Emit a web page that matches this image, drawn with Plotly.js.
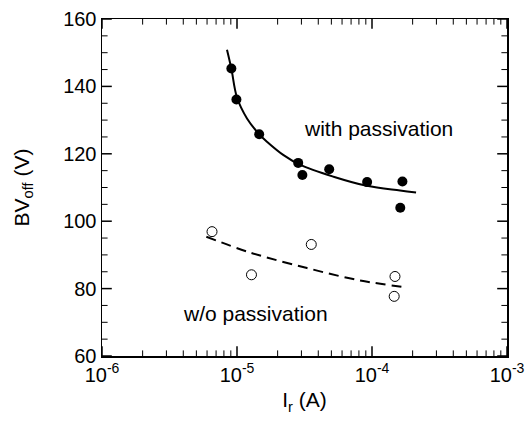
<!DOCTYPE html>
<html>
<head>
<meta charset="utf-8">
<script src="https://cdn.plot.ly/plotly-3.0.1.min.js"></script>
<style>html,body{margin:0;padding:0;background:#fff;}#chart{width:527px;height:422px;}</style>
</head>
<body>
<div id="chart"></div>
<script>
// measured data: with passivation (filled circles)
const withX = [9.08e-6, 9.9e-6, 1.46e-5, 2.84e-5, 3.05e-5, 4.82e-5, 9.2e-5, 1.68e-4, 1.62e-4];
const withY = [145.3, 136.1, 125.8, 117.3, 113.7, 115.4, 111.6, 111.8, 104.0];
// measured data: without passivation (open circles)
const woX = [6.53e-6, 1.28e-5, 3.55e-5, 1.48e-4, 1.46e-4];
const woY = [96.9, 84.1, 93.1, 83.6, 77.7];
// fit curves
const fitWithX = [8.43e-6, 9.08e-6, 1e-5, 1.186e-5, 1.46e-5, 1.667e-5, 2.213e-5, 2.94e-5, 5.19e-5, 9.14e-5, 1.614e-4, 2.12e-4];
const fitWithY = [150.9, 145.3, 136.7, 130.5, 125.8, 123.6, 119.6, 116.7, 113.2, 110.5, 109.1, 108.5];
const fitWoX = [5.93e-6, 1.253e-5, 3.3e-5, 8.17e-5, 1.79e-4];
const fitWoY = [95.4, 90.7, 86.1, 82.4, 80.4];
const labels = ["with passivation", "w/o passivation"];
// axis ticks
const xMajor = [1e-6, 1e-5, 1e-4, 1e-3];
const xTickText = ['10<sup>-6</sup>', '10<sup>-5</sup>', '10<sup>-4</sup>', '10<sup>-3</sup>'];
const decades = [1e-6, 1e-5, 1e-4];
const minorMult = [2, 3, 4, 5, 6, 7, 8, 9];
const yMajor = [60, 80, 100, 120, 140, 160];
const yMinor = [65, 70, 75, 85, 90, 95, 105, 110, 115, 125, 130, 135, 145, 150, 155];

const xMinor = [];
decades.forEach(d => minorMult.forEach(m => xMinor.push(d * m)));

// tick marks drawn as clipped line markers on both edges (bottom/top, left/right)
function xTickTrace(vals, size, width) {
  const xs = [], ys = [];
  vals.forEach(v => { xs.push(v, v); ys.push(0, 1); });
  return {x: xs, y: ys, xaxis: 'x', yaxis: 'y3', mode: 'markers', hoverinfo: 'skip', cliponaxis: true,
          marker: {symbol: 'line-ns', size: size, color: '#000', line: {color: '#000', width: width}}};
}
function yTickTrace(vals, size, width) {
  const xs = [], ys = [];
  vals.forEach(v => { ys.push(v, v); xs.push(0, 1); });
  return {x: xs, y: ys, xaxis: 'x3', yaxis: 'y', mode: 'markers', hoverinfo: 'skip', cliponaxis: true,
          marker: {symbol: 'line-ew', size: size, color: '#000', line: {color: '#000', width: width}}};
}

const font = "Liberation Sans, Arial, Helvetica, sans-serif";

const traces = [
  xTickTrace(xMajor, 14, 1.5),
  xTickTrace(xMinor, 8, 1),
  yTickTrace(yMajor, 14, 1.5),
  yTickTrace(yMinor, 8, 1),
  {x: fitWithX, y: fitWithY, mode: 'lines', line: {color: '#000', width: 2, shape: 'spline'}, hoverinfo: 'skip'},
  {x: fitWoX, y: fitWoY, mode: 'lines', line: {color: '#000', width: 2, dash: '10px,6px', shape: 'spline'}, hoverinfo: 'skip'},
  {x: withX, y: withY, mode: 'markers', marker: {symbol: 'circle', size: 10, color: '#000'}},
  {x: woX, y: woY, mode: 'markers', marker: {symbol: 'circle-open', size: 10, color: '#000', line: {width: 1, color: '#000'}}}
];

const axisCommon = {
  showline: true, linecolor: '#000', linewidth: 1.5, mirror: true,
  ticks: '', showgrid: false, zeroline: false,
  tickfont: {family: font, size: 20, color: '#000'}
};

const layout = {
  width: 527, height: 422,
  margin: {l: 102, r: 20, t: 19, b: 66},
  paper_bgcolor: '#fff', plot_bgcolor: '#fff',
  showlegend: false,
  xaxis: Object.assign({}, axisCommon, {
    type: 'log', range: [-6, -3], tickmode: 'array', tickvals: xMajor, ticktext: xTickText,
    ticklabeloverflow: 'allow',
    title: {text: 'I<sub>r</sub> (A)', font: {family: font, size: 21, color: '#000'}, standoff: 8}
  }),
  yaxis: Object.assign({}, axisCommon, {
    range: [60, 160], tickmode: 'array', tickvals: yMajor,
    title: {text: 'BV<sub>off</sub> (V)', font: {family: font, size: 21, color: '#000'}, standoff: 28}
  }),
  xaxis3: {overlaying: 'x', range: [0, 1], visible: false, anchor: 'y'},
  yaxis3: {overlaying: 'y', range: [0, 1], visible: false, anchor: 'x'},
  annotations: [
    {x: -3.955, y: 127.6, xref: 'x', yref: 'y', text: labels[0], showarrow: false,
     font: {family: font, size: 21, color: '#000'}},
    {x: -4.861, y: 72.6, xref: 'x', yref: 'y', text: labels[1], showarrow: false,
     font: {family: font, size: 21, color: '#000'}}
  ]
};

Plotly.newPlot('chart', traces, layout, {staticPlot: true, displayModeBar: false});
</script>
</body>
</html>
